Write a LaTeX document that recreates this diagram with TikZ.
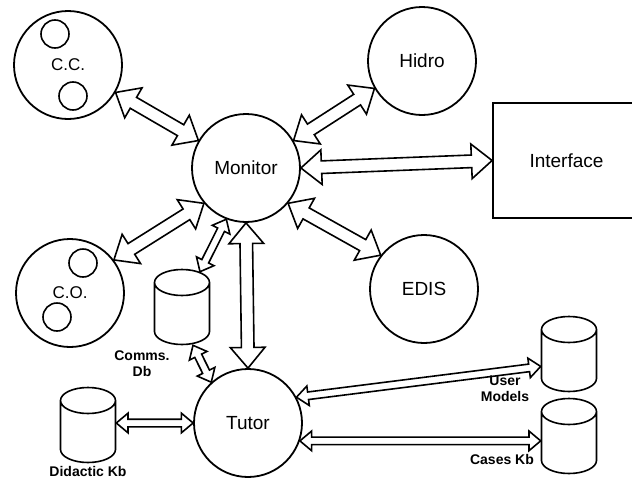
\documentclass[tikz,border=0pt]{standalone}
\usepackage{fontspec}
\setmainfont{Liberation Sans}
\usetikzlibrary{shapes.geometric,shapes.arrows,calc,positioning}

% hollow two-headed arrow from #2 to #3
\newcommand{\dlink}[3][wide]{%
  \path let \p1=($(#3)-(#2)$), \n1={veclen(\x1,\y1)}, \n2={atan2(\y1,\x1)} in
    node[#1, minimum height=\n1, rotate=\n2] at ($(#2)!0.5!(#3)$) {};}

\begin{document}
\begin{tikzpicture}[
    x=0.5pt, y=-0.5pt,
    module/.style={
        circle, draw, line width=0.9pt, minimum size=54pt, inner sep=0pt,
        font=\fontsize{9.5}{11}\selectfont
    },
    sub/.style={circle, draw, line width=0.8pt, minimum size=14pt, inner sep=0pt},
    store/.style={
        cylinder, shape border rotate=90, aspect=1, draw, line width=0.8pt,
        minimum width=27.5pt, minimum height=37.5pt, inner sep=6.5pt,
        anchor=shape center
    },
    tag/.style={font=\bfseries\fontsize{7}{8}\selectfont, align=center},
    wide/.style={
        double arrow, draw, line width=0.8pt, inner sep=0pt, inner ysep=2.75pt,
        double arrow head extend=5.5pt, double arrow tip angle=80
    },
    narrow/.style={wide, inner ysep=1.5pt, double arrow head extend=3pt}
]
\useasboundingbox (0,0) rectangle (632,477);

% Modules
\node[module] (mon) at (246,168) {Monitor};
\node[module, font=\fontsize{8.5}{10}\selectfont] (cc) at (68,65) {C.C.};
\node[module] (hidro) at (422,61) {Hidro};
\node[module, font=\fontsize{8.5}{10}\selectfont] (co) at (70,293) {C.O.};
\node[module] (edis) at (424,289) {EDIS};
\node[module] (tutor) at (248,423) {Tutor};
\node[draw, line width=0.9pt, minimum width=73.5pt, minimum height=57.5pt,
      font=\fontsize{9.5}{11}\selectfont] (ifc) at (566.5,160.5) {Interface};

% Inner circles
\node[sub] (cc1) at (55,34) {};
\node[sub] (cc2) at (73,96) {};
\node[sub] (co1) at (83,263) {};
\node[sub] (co2) at (57,317) {};

% Data stores
\node[store] (comms) at (182,307) {};
\node[store] (didactic) at (88,425) {};
\node[store] (models) at (569,354) {};
\node[store] (cases) at (569,436) {};

% Store labels
\node[tag] (commslbl) at (142,364) {Comms.\\Db};
\node[tag] (didacticlbl) at (88,471) {Didactic Kb};
\node[tag] (modelslbl) at (505,389) {User\\Models};
\node[tag] (caseslbl) at (502,459) {Cases Kb};

% Arrow ends
\coordinate (ctop) at ($(comms.north)+(18,3)$);
\coordinate (cbot) at ($(comms.south)+(11,0)$);
\coordinate (dkin) at (tutor.180 -| didactic.east);
\coordinate (ckin) at (tutor.-19 -| cases.west);

% Arrows
\dlink{cc.-30}{mon.150}
\dlink{mon.30}{hidro.-150}
\dlink{mon.0}{ifc.west}
\dlink{co.37}{mon.-140}
\dlink{mon.-40}{edis.142}
\dlink{mon.-90}{tutor.90}
\dlink[narrow]{mon.-111}{ctop}
\dlink[narrow]{cbot}{tutor.132}
\dlink[narrow]{dkin}{tutor.180}
\dlink[narrow]{tutor.28}{models.west}
\dlink[narrow]{tutor.-19}{ckin}

\end{tikzpicture}
\end{document}
